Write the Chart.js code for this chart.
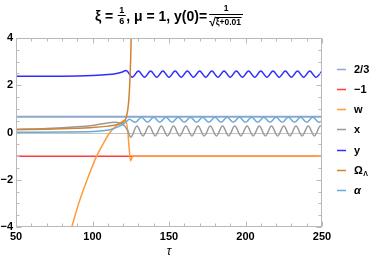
<!DOCTYPE html>
<html><head><meta charset="utf-8">
<style>html,body{margin:0;padding:0;background:#fff;}#wrap{width:374px;height:260px;}</style>
<script src="https://cdn.jsdelivr.net/npm/chart.js@4.4.0/dist/chart.umd.min.js"></script>
</head><body><div id="wrap"><canvas id="c" width="374" height="260"></canvas></div>
<script>
// ---- data ----
const xTickVals = [50, 100, 150, 200, 250];
const yTickVals = [-4, -2, 0, 2, 4];
const seriesNames = ['2/3', '−1', 'w', 'x', 'y', 'Ω', 'α'];

const tauConst = [50, 250];
const twoThirdVals = [0.667, 0.667];
const minusOneVals = [-1, -1];

const tauW = [80, 86.4, 91, 96.5, 102.7, 106.8, 111.4, 115.5, 119, 121.5, 123, 124, 124.8, 125.6, 126.5, 127.5, 250];
const wVals = [-5.2, -4, -3, -2, -1, -0.5, 0, 0.28, 0.45, 0.52, 0.1, -0.7, -1.2, -1.1, -1.0, -1, -1];

const tauX = [50, 70, 90, 100, 108, 114, 118, 121, 123, 125, 129, 133, 137, 141, 145, 149, 153, 157, 161, 165, 169, 173, 177, 181, 185, 189, 193, 197, 201, 205, 209, 213, 217, 221, 225, 229, 233, 237, 241, 245, 249, 250];
const xVals = [0.14, 0.17, 0.24, 0.3, 0.38, 0.43, 0.4, 0.28, 0.08, -0.2, 0.27, -0.15, 0.27, -0.15, 0.27, -0.15, 0.27, -0.15, 0.27, -0.15, 0.27, -0.15, 0.27, -0.15, 0.27, -0.15, 0.27, -0.15, 0.27, -0.15, 0.27, -0.15, 0.27, -0.15, 0.27, -0.15, 0.27, -0.15, 0.27, -0.15, 0.27, 0.25];

const tauY = [50, 70, 90, 100, 110, 115, 119, 122, 126, 130, 134, 138, 142, 146, 150, 154, 158, 162, 166, 170, 174, 178, 182, 186, 190, 194, 198, 202, 206, 210, 214, 218, 222, 226, 230, 234, 238, 242, 246, 250];
const yVals = [2.38, 2.38, 2.39, 2.41, 2.45, 2.49, 2.55, 2.62, 2.34, 2.6, 2.34, 2.6, 2.34, 2.6, 2.34, 2.6, 2.34, 2.6, 2.34, 2.6, 2.34, 2.6, 2.34, 2.6, 2.34, 2.6, 2.34, 2.6, 2.34, 2.6, 2.34, 2.6, 2.34, 2.6, 2.34, 2.6, 2.34, 2.6, 2.34, 2.6];

const tauOmega = [50, 70, 90, 100, 110, 115, 119, 121, 122.3, 123.5, 124.3, 124.9, 125.3, 125.6];
const omegaVals = [0.12, 0.14, 0.18, 0.21, 0.27, 0.32, 0.4, 0.5, 0.7, 1.2, 2.0, 3.0, 4.2, 6];

const tauAlpha = [50, 80, 100, 108, 113, 117, 120, 122, 124, 128, 132, 136, 140, 144, 148, 152, 156, 160, 164, 168, 172, 176, 180, 184, 188, 192, 196, 200, 204, 208, 212, 216, 220, 224, 228, 232, 236, 240, 244, 248, 250];
const alphaVals = [0.01, 0.02, 0.04, 0.08, 0.15, 0.25, 0.36, 0.45, 0.56, 0.43, 0.65, 0.43, 0.65, 0.43, 0.65, 0.43, 0.65, 0.43, 0.65, 0.43, 0.65, 0.43, 0.65, 0.43, 0.65, 0.43, 0.65, 0.43, 0.65, 0.43, 0.65, 0.43, 0.65, 0.43, 0.65, 0.43, 0.65, 0.43, 0.65, 0.43, 0.5];

// ---- styling ----
const FONT = '"Liberation Sans", Arial, sans-serif';
const colors = ['#8da6cb', '#ff3b3b', '#ff9a3a', '#9a9a9a', '#2e2eff', '#d2832f', '#68abd8'];
const widths = [2, 1.5, 1.5, 1.5, 1.5, 1.5, 1.5];

function pts(t, v) { return t.map((tt, i) => ({x: tt, y: v[i]})); }
const seriesData = [
  pts(tauConst, twoThirdVals), pts(tauConst, minusOneVals), pts(tauW, wVals),
  pts(tauX, xVals), pts(tauY, yVals), pts(tauOmega, omegaVals), pts(tauAlpha, alphaVals)
];

const datasets = seriesData.map((d, i) => ({
  label: seriesNames[i], data: d, borderColor: colors[i], backgroundColor: colors[i],
  borderWidth: widths[i], pointRadius: 0, fill: false, cubicInterpolationMode: 'monotone',
  order: seriesData.length - i, clip: 0
}));

const decor = {
  id: 'decor',
  beforeDatasetsDraw(chart) {
    const {ctx, chartArea: a, scales: {y}} = chart;
    const y0 = Math.round(y.getPixelForValue(0)) + 0.5;
    ctx.save();
    ctx.strokeStyle = '#c4c4c4'; ctx.lineWidth = 1;
    ctx.beginPath(); ctx.moveTo(a.left, y0); ctx.lineTo(a.right, y0); ctx.stroke();
    ctx.restore();
  },
  afterDatasetsDraw(chart) {
    const {ctx, chartArea: a, scales: {x, y}} = chart;
    ctx.save();
    ctx.strokeStyle = '#b9b9b9'; ctx.lineWidth = 1;
    const L = Math.round(a.left) + 0.5, R = Math.round(a.right) - 0.5, T = Math.round(a.top) + 0.5, B = Math.round(a.bottom) - 0.5;
    ctx.strokeRect(L, T, R - L, B - T);
    ctx.beginPath();
    for (let v = 50; v <= 250; v += 10) {
      const px = Math.round(x.getPixelForValue(v)) + 0.5;
      const len = (v % 50 === 0) ? 5 : 3;
      ctx.moveTo(px, B); ctx.lineTo(px, B - len);
      ctx.moveTo(px, T); ctx.lineTo(px, T + len);
    }
    for (let v = -4; v <= 4.001; v += 0.5) {
      const py = Math.round(y.getPixelForValue(v)) + 0.5;
      const len = (Math.abs(v % 2) < 1e-6) ? 5 : 3;
      ctx.moveTo(L, py); ctx.lineTo(L + len, py);
      ctx.moveTo(R, py); ctx.lineTo(R - len, py);
    }
    ctx.stroke();
    ctx.restore();
  },
  afterDraw(chart) {
    const {ctx, chartArea: a} = chart;
    ctx.save();
    ctx.fillStyle = '#000'; ctx.strokeStyle = '#000';
    // ---- title ----
    const big = 'bold 14px ' + FONT, sm = 'bold 9px ' + FONT, tiny = 'bold 8.5px ' + FONT;
    const base = 21;
    ctx.font = big; const w1 = ctx.measureText('ξ = ').width;
    const t2 = ', μ = 1, y(0)=';
    const w3 = ctx.measureText(t2).width;
    ctx.font = sm; const wf1 = Math.max(ctx.measureText('1').width, ctx.measureText('6').width) + 4;
    ctx.font = 'bold 12px ' + FONT; const wr = ctx.measureText('√').width;
    ctx.font = tiny; const wrad = ctx.measureText('ξ+0.01').width;
    const wf2 = wr + wrad + 2;
    const total = w1 + wf1 + w3 + wf2 + 2;
    let cx = (a.left + a.right) / 2 - total / 2;
    ctx.textBaseline = 'alphabetic'; ctx.textAlign = 'left';
    ctx.font = big; ctx.fillText('ξ = ', cx, base); cx += w1;
    // small fraction 1/6
    ctx.font = sm; ctx.textAlign = 'center';
    ctx.fillText('1', cx + wf1 / 2, 13); ctx.fillText('6', cx + wf1 / 2, 24);
    ctx.fillRect(cx + 0.5, 15, wf1 - 1, 1);
    cx += wf1; ctx.textAlign = 'left';
    ctx.font = big; ctx.fillText(t2, cx, base); cx += w3 + 2;
    // big fraction 1/sqrt(xi+0.01)
    ctx.font = tiny; ctx.textAlign = 'center';
    ctx.fillText('1', cx + wf2 / 2, 11);
    ctx.fillRect(cx, 14, wf2, 1);
    ctx.textAlign = 'left';
    ctx.font = 'bold 12px ' + FONT; ctx.fillText('√', cx, 26);
    ctx.font = tiny; ctx.fillText('ξ+0.01', cx + wr, 25);
    ctx.fillRect(cx + wr - 0.5, 17, wrad + 1, 1);
    // ---- legend ----
    const ly0 = 68.5, ldy = 20.3;
    for (let i = 0; i < seriesNames.length; i++) {
      const yy = Math.round(ly0 + i * ldy) + 0.5;
      ctx.strokeStyle = colors[i]; ctx.lineWidth = 1.5;
      ctx.beginPath(); ctx.moveTo(337, yy); ctx.lineTo(346, yy); ctx.stroke();
      ctx.fillStyle = '#000'; ctx.textBaseline = 'middle';
      const name = seriesNames[i];
      if (name === 'α') ctx.font = 'bold italic 11px ' + FONT; else ctx.font = 'bold 11px ' + FONT;
      ctx.fillText(name, 354, yy);
      if (name === 'Ω') {
        const ww = ctx.measureText(name).width;
        ctx.font = 'bold 7px ' + FONT; ctx.fillText('Λ', 354 + ww + 0.5, yy + 4);
      }
    }
    ctx.restore();
  }
};

new Chart(document.getElementById('c'), {
  type: 'line',
  data: {datasets},
  plugins: [decor],
  options: {
    responsive: false, animation: false, devicePixelRatio: 1,
    layout: {padding: {left: 0, right: 52, top: 38, bottom: 0}},
    plugins: {legend: {display: false}, tooltip: {enabled: false}, title: {display: false}},
    elements: {point: {radius: 0}},
    scales: {
      x: {
        type: 'linear', min: 50, max: 250,
        afterBuildTicks: s => { s.ticks = xTickVals.map(v => ({value: v})); },
        ticks: {autoSkip: false, maxRotation: 0, padding: 3, color: '#000',
          font: {family: FONT, size: 11, weight: 'bold'}, callback: v => String(v)},
        grid: {display: false, drawTicks: false}, border: {display: false},
        title: {display: true, text: 'τ', color: '#000', font: {family: FONT, size: 12, style: 'italic'}, padding: {top: 0, bottom: 1}},
        afterFit: s => { s.height = 33; }
      },
      y: {
        type: 'linear', min: -4, max: 4,
        afterBuildTicks: s => { s.ticks = yTickVals.map(v => ({value: v})); },
        ticks: {autoSkip: false, padding: 3, color: '#000',
          font: {family: FONT, size: 11, weight: 'bold'}, callback: v => v < 0 ? '−' + Math.abs(v) : String(v)},
        grid: {display: false, drawTicks: false}, border: {display: false},
        afterFit: s => { s.width = 16; }
      }
    }
  }
});
</script>
</body></html>
